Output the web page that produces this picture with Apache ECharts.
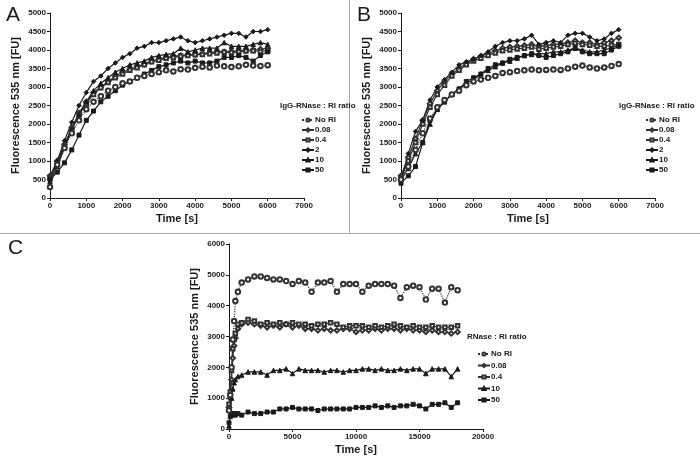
<!DOCTYPE html>
<html><head><meta charset="utf-8">
<script src="https://cdn.jsdelivr.net/npm/echarts@6/dist/echarts.min.js"></script>
<style>html,body{margin:0;padding:0;background:#fff}#c{width:700px;height:467px}</style>
</head><body><div id="c"></div>
<script>
// ---------- DATA ----------
const seriesNames = ['No RI', '0.08', '0.4', '2', '10', '50'];
const seriesNamesC = ['No RI', '0.08', '0.4', '10', '50'];
const legendTitleAB = 'IgG-RNase : RI ratio';
const legendTitleC = 'RNase : RI ratio';
const yAxisName = 'Fluorescence 535 nm [FU]';
const xAxisName = 'Time [s]';

const timeAB = [0,200,400,600,800,1000,1200,1400,1600,1800,2000,2200,2400,2600,2800,3000,3200,3400,3600,3800,4000,4200,4400,4600,4800,5000,5200,5400,5600,5800,6000];

const aNoRI = [300,900,1350,1750,2100,2400,2600,2750,2900,3000,3100,3150,3250,3300,3350,3400,3450,3420,3480,3470,3520,3550,3530,3580,3560,3540,3560,3600,3580,3570,3590];
const a008  = [600,1000,1450,1900,2300,2600,2850,3000,3150,3300,3400,3480,3550,3620,3700,3750,3800,3830,3850,3870,3880,3900,3920,3950,3950,3960,3980,3990,4000,4020,4050];
const a04   = [550,950,1400,1850,2250,2550,2800,2980,3120,3250,3350,3450,3520,3600,3680,3720,3780,3800,3830,3850,3870,3880,3900,3920,3940,3930,3950,3970,3980,3960,3990];
const a2    = [500,1000,1550,2050,2500,2850,3150,3300,3500,3650,3800,3900,4050,4100,4200,4200,4250,4300,4350,4250,4200,4250,4300,4350,4400,4450,4450,4350,4500,4500,4550];
const a10   = [450,850,1350,1850,2250,2600,2900,3100,3250,3400,3500,3600,3650,3700,3800,3850,3880,3900,4050,3950,4000,4050,4050,4050,4200,4100,4100,4100,4150,4200,4150];
const a50   = [500,700,950,1300,1700,2100,2350,2600,2750,2900,3050,3150,3250,3350,3450,3550,3600,3650,3700,3650,3700,3650,3650,3700,3800,3800,3850,3800,3700,3850,3950];

const bNoRI = [500,850,1300,1750,2150,2450,2650,2800,2900,3050,3150,3200,3250,3300,3380,3400,3430,3450,3470,3450,3460,3470,3460,3500,3550,3580,3530,3500,3530,3570,3620];
const b008  = [600,1100,1600,2100,2550,2900,3150,3350,3500,3650,3750,3830,3900,3980,4050,4080,4100,4120,4150,4100,4120,4150,4150,4200,4250,4200,4200,4150,4200,4250,4330];
const b04   = [550,1000,1500,2000,2450,2800,3050,3300,3450,3600,3700,3780,3850,3920,3980,4000,4030,4050,4080,4020,4050,4080,4100,4150,4180,4150,4130,4100,4100,4130,4150];
const b2    = [450,1200,1800,2100,2650,3000,3200,3400,3600,3680,3750,3850,3950,4100,4200,4250,4250,4300,4400,4150,4200,4250,4200,4400,4450,4450,4350,4250,4300,4450,4550];
const b10   = [500,800,1200,1500,2000,2400,2600,2800,2950,3100,3200,3350,3450,3550,3650,3700,3780,3850,3880,3900,3900,3950,3950,4000,4050,4000,3950,3950,4000,4050,4150];
const b50   = [400,600,850,1500,2100,2400,2600,2800,2950,3150,3250,3350,3500,3600,3650,3750,3800,3850,3900,3850,3800,3850,3900,3950,4050,3950,3900,3900,3900,4000,4100];

const timeC = [0,100,200,300,400,500,700,1000,1500,2000,2500,3000,3500,4000,4500,5000,5500,6000,6500,7000,7500,8000,8500,9000,9500,10000,10500,11000,11500,12000,12500,13000,13500,14000,14500,15000,15500,16000,16500,17000,17500,18000];
const cNoRI = [600,1100,2000,2900,3500,4150,4450,4750,4850,4950,4950,4900,4850,4850,4800,4700,4800,4750,4450,4750,4750,4800,4450,4700,4700,4700,4450,4650,4700,4700,4700,4650,4250,4600,4650,4600,4200,4550,4550,4100,4600,4500];
const c008  = [700,1000,1600,2300,2700,2950,3250,3400,3450,3400,3350,3300,3350,3300,3400,3300,3350,3250,3250,3200,3250,3200,3200,3250,3250,3150,3200,3200,3250,3200,3250,3250,3200,3250,3200,3200,3150,3200,3150,3150,3100,3150];
const c04   = [800,1200,1900,2600,2900,3100,3400,3450,3550,3500,3400,3450,3400,3450,3400,3450,3400,3400,3350,3400,3400,3450,3400,3300,3350,3350,3350,3300,3350,3300,3350,3400,3350,3300,3350,3300,3300,3350,3300,3300,3300,3350];
const c10   = [100,600,1000,1300,1500,1600,1700,1750,1850,1850,1850,1750,1900,1900,1950,1800,1950,1900,1900,1900,1850,1900,1900,1850,1900,1900,1950,1950,1900,1950,1900,1900,1950,1900,1950,1950,1800,1950,1950,1950,1700,1950];
const c50   = [200,400,500,450,500,450,500,450,550,500,500,550,550,650,650,700,650,650,650,600,650,650,650,650,650,700,700,700,750,700,750,700,750,750,800,750,650,800,800,850,700,850];

const yTicksAB = {min:0, max:5000, interval:500};
const xTicksAB = {min:0, max:7000, interval:1000};
const yTicksC = {min:0, max:6000, interval:1000};
const xTicksC = {min:0, max:20000, interval:5000};

// ---------- STYLE ----------
const INK = '#1a1a1a';
const FONT = '"Liberation Sans", Arial, sans-serif';
const styles = {
  'No RI': {symbol:'emptyCircle', size:4.5, dash:'dotted', color:'#333'},
  '0.08':  {symbol:'emptyDiamond', size:4.5, dash:'solid', color:'#333'},
  '0.4':   {symbol:'emptyRect', size:3.5, dash:'solid', color:'#333'},
  '2':     {symbol:'diamond', size:4.5, dash:'solid', color:INK},
  '10':    {symbol:'triangle', size:4.5, dash:'solid', color:INK},
  '50':    {symbol:'rect', size:4, dash:'solid', color:INK}
};
function pairs(t, v){ return t.map((x,i)=>[x, v[i]]); }
function mk(name, t, v, idx){
  const s = styles[name];
  return {
    name, type:'line', xAxisIndex:idx, yAxisIndex:idx,
    data:pairs(t, v), symbol:s.symbol, symbolSize:s.size, showSymbol:true,
    lineStyle:{color:s.color, width:1.2, type:s.dash},
    itemStyle:{color:s.color, borderColor:s.color, borderWidth:1},
    emphasis:{disabled:true}, z: name==='No RI'?3:2
  };
}
const plain = v => String(v);
function xAx(idx, t){
  return {gridIndex:idx, type:'value', min:t.min, max:t.max, interval:t.interval,
    name:xAxisName, nameLocation:'middle', nameGap:15,
    nameTextStyle:{fontFamily:FONT, fontWeight:'bold', fontSize:11, color:INK},
    axisLine:{lineStyle:{color:INK, width:1}}, axisTick:{length:3, lineStyle:{color:INK}},
    splitLine:{show:false},
    axisLabel:{formatter:plain, fontFamily:FONT, fontWeight:'bold', fontSize:8, color:INK, margin:4}};
}
function yAx(idx, t){
  return {gridIndex:idx, type:'value', min:t.min, max:t.max, interval:t.interval,
    name:yAxisName, nameLocation:'middle', nameGap:29,
    nameTextStyle:{fontFamily:FONT, fontWeight:'bold', fontSize:11, color:INK},
    axisLine:{show:true, lineStyle:{color:INK, width:1}}, axisTick:{show:true, length:3, lineStyle:{color:INK}},
    splitLine:{show:false},
    axisLabel:{formatter:plain, fontFamily:FONT, fontWeight:'bold', fontSize:8, color:INK, margin:4}};
}
function leg(names, left, top, gap){
  return {data:names, orient:'vertical', left, top, padding:0, itemWidth:12, itemHeight:4, itemGap:gap, itemSymbolSize:4,
    selectedMode:false, textStyle:{fontFamily:FONT, fontWeight:'bold', fontSize:8, color:INK, padding:[0,0,0,-4]}};
}
function ttl(text, left, top, size, bold){
  return {text, left, top, padding:0, textStyle:{fontFamily:FONT, fontWeight:bold?'bold':'normal', fontSize:size, color:INK}};
}

const series = [];
[aNoRI,a008,a04,a2,a10,a50].forEach((v,i)=>series.push(mk(seriesNames[i], timeAB, v, 0)));
[bNoRI,b008,b04,b2,b10,b50].forEach((v,i)=>series.push(mk(seriesNames[i], timeAB, v, 1)));
[cNoRI,c008,c04,c10,c50].forEach((v,i)=>series.push(mk(seriesNamesC[i], timeC, v, 2)));

const chart = echarts.init(document.getElementById('c'), null, {renderer:'canvas'});
chart.setOption({
  animation:false,
  backgroundColor:'#fff',
  title:[ttl('A',6,5,21,false), ttl('B',357,5,21,false), ttl('C',8,238,21,false),
         ttl(legendTitleAB,280,102,8,true), ttl(legendTitleAB,619,102,8,true), ttl(legendTitleC,467,333,8,true)],
  legend:[leg(seriesNames,301,116,2), leg(seriesNames,645,116,2), leg(seriesNamesC,477,350,3.5)],
  grid:[{left:50, top:13, width:254, height:185},
        {left:401, top:13, width:254, height:185},
        {left:229, top:244, width:254, height:185}],
  xAxis:[xAx(0,xTicksAB), xAx(1,xTicksAB), xAx(2,xTicksC)],
  yAxis:[yAx(0,yTicksAB), yAx(1,yTicksAB), yAx(2,yTicksC)],
  series,
  graphic:[
    {type:'line', shape:{x1:0,y1:233.5,x2:700,y2:233.5}, style:{stroke:'#aaa', lineWidth:1}, silent:true},
    {type:'line', shape:{x1:349.5,y1:0,x2:349.5,y2:233}, style:{stroke:'#aaa', lineWidth:1}, silent:true}
  ]
});
</script></body></html>
